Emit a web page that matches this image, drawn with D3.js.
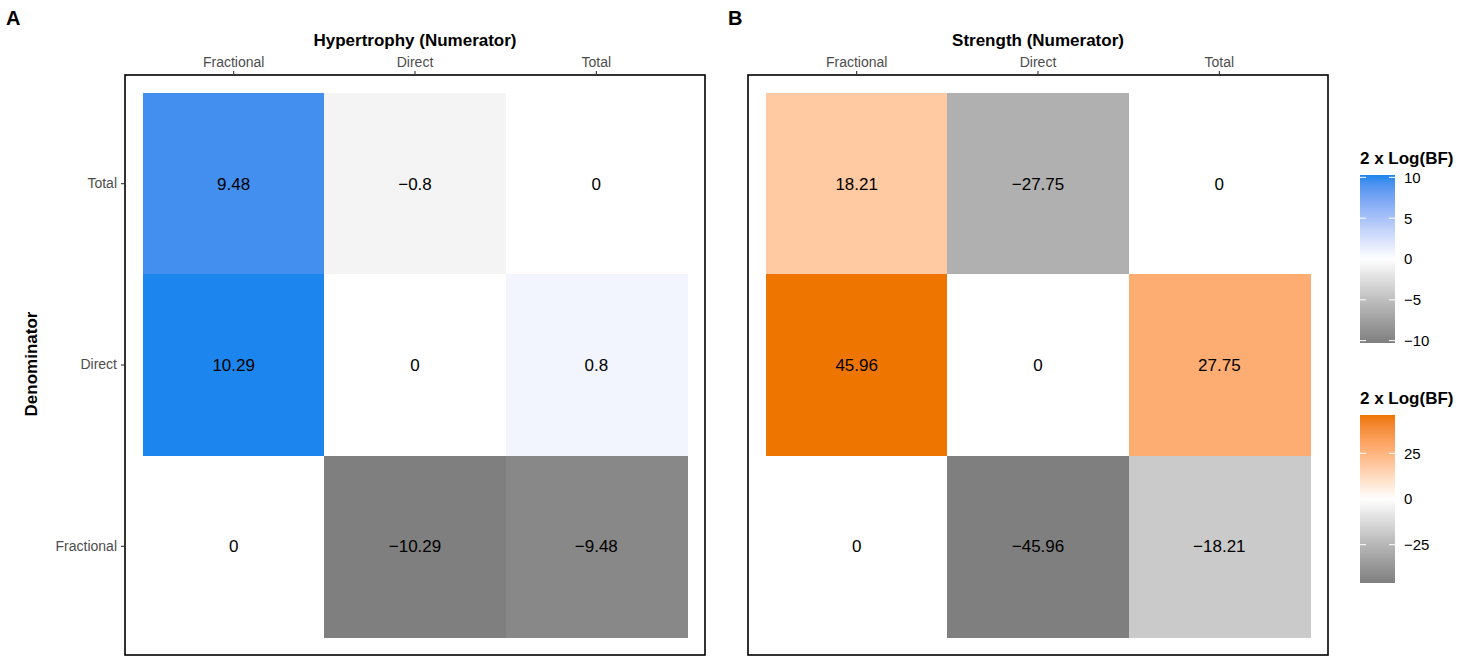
<!DOCTYPE html>
<html>
<head>
    <script src="https://d3js.org/d3.v7.min.js"></script>
    <style>
        body { margin: 0; background: #fff; }
        svg { font-family: "Liberation Sans", Arial, sans-serif; }
    </style>
</head>
<body>
    <svg width="1484" height="656"></svg>
    <script>
        // categories
        const numerators = ["Fractional", "Direct", "Total"];
        const denominators = ["Total", "Direct", "Fractional"];

        // values, row by row (denominator), columns = numerator
        const hypertrophyValues = [
            [9.48, -0.8, 0],
            [10.29, 0, 0.8],
            [0, -10.29, -9.48]
        ];
        const strengthValues = [
            [18.21, -27.75, 0],
            [45.96, 0, 27.75],
            [0, -45.96, -18.21]
        ];

        const hyperTicks = [10, 5, 0, -5, -10];
        const strengthTicks = [25, 0, -25];

        const svg = d3.select("svg");
        const fmt = v => String(v).replace("-", "\u2212");

        function makeColor(maxAbs, high) {
            return d3.scaleLinear()
                .domain([-maxAbs, 0, maxAbs])
                .range(["#7f7f7f", "#ffffff", high])
                .interpolate(d3.interpolateLab);
        }

        const hyperColor = makeColor(10.29, "#1C86EE");
        const strengthColor = makeColor(45.96, "#EE7600");

        function panel(x0, letter, title, values, color, showY) {
            const frame = { x: x0, y: 75, w: 580, h: 580 };
            const inner = 18;
            const g = svg.append("g");

            const x = d3.scaleBand().domain(numerators)
                .range([frame.x + inner, frame.x + frame.w - inner]);
            const y = d3.scaleBand().domain(denominators)
                .range([frame.y + inner, frame.y + frame.h - inner]);

            const cells = [];
            values.forEach((row, i) => row.forEach((v, j) => {
                cells.push({ num: numerators[j], den: denominators[i], v });
            }));

            g.selectAll("rect.cell").data(cells).join("rect")
                .attr("class", "cell")
                .attr("x", d => x(d.num))
                .attr("y", d => y(d.den))
                .attr("width", x.bandwidth() + 0.5)
                .attr("height", y.bandwidth() + 0.5)
                .attr("shape-rendering", "crispEdges")
                .attr("fill", d => color(d.v));

            g.selectAll("text.val").data(cells).join("text")
                .attr("class", "val")
                .attr("x", d => x(d.num) + x.bandwidth() / 2)
                .attr("y", d => y(d.den) + y.bandwidth() / 2)
                .attr("dy", "0.36em")
                .attr("text-anchor", "middle")
                .attr("font-size", 17)
                .attr("fill", "#000")
                .text(d => fmt(d.v));

            g.append("rect")
                .attr("x", frame.x).attr("y", frame.y)
                .attr("width", frame.w).attr("height", frame.h)
                .attr("fill", "none").attr("stroke", "#000").attr("stroke-width", 1.6);

            // top axis
            const xAxis = g.append("g")
                .attr("transform", `translate(0,${frame.y})`)
                .call(d3.axisTop(x).tickSize(4).tickPadding(4));
            xAxis.select(".domain").remove();
            xAxis.selectAll("line").attr("stroke", "#333").attr("stroke-width", 1.1);
            xAxis.selectAll("text").attr("font-size", 14).attr("fill", "#4d4d4d")
                .attr("font-family", "Liberation Sans, Arial, sans-serif");

            if (showY) {
                const yAxis = g.append("g")
                    .attr("transform", `translate(${frame.x},0)`)
                    .call(d3.axisLeft(y).tickSize(4).tickPadding(4));
                yAxis.select(".domain").remove();
                yAxis.selectAll("line").attr("stroke", "#333").attr("stroke-width", 1.1);
                yAxis.selectAll("text").attr("font-size", 14).attr("fill", "#4d4d4d")
                    .attr("font-family", "Liberation Sans, Arial, sans-serif");

                g.append("text")
                    .attr("transform", `translate(37,${frame.y + frame.h / 2 - 1}) rotate(-90)`)
                    .attr("text-anchor", "middle")
                    .attr("font-size", 17).attr("font-weight", "bold")
                    .text("Denominator");
            }

            g.append("text")
                .attr("x", frame.x + frame.w / 2).attr("y", 46)
                .attr("text-anchor", "middle")
                .attr("font-size", 17).attr("font-weight", "bold")
                .text(title);

            g.append("text")
                .attr("x", letter.x).attr("y", 25)
                .attr("font-size", 20).attr("font-weight", "bold")
                .text(letter.t);
        }

        panel(125, { x: 6, t: "A" }, "Hypertrophy (Numerator)", hypertrophyValues, hyperColor, true);
        panel(748, { x: 728, t: "B" }, "Strength (Numerator)", strengthValues, strengthColor, false);

        // legends
        const defs = svg.append("defs");
        function legend(id, top, maxAbs, color, ticks) {
            const bx = 1360, bw = 35, bh = 168;
            const grad = defs.append("linearGradient").attr("id", id)
                .attr("x1", 0).attr("y1", 1).attr("x2", 0).attr("y2", 0);
            d3.range(0, 21).forEach(k => {
                const t = k / 20;
                grad.append("stop").attr("offset", t)
                    .attr("stop-color", color(-maxAbs + 2 * maxAbs * t));
            });
            const g = svg.append("g");
            g.append("text").attr("x", bx).attr("y", top - 11)
                .attr("font-size", 17).attr("font-weight", "bold")
                .text("2 x Log(BF)");
            g.append("rect").attr("x", bx).attr("y", top)
                .attr("width", bw).attr("height", bh)
                .attr("fill", `url(#${id})`);
            const s = d3.scaleLinear().domain([-maxAbs, maxAbs]).range([top + bh, top]);
            ticks.forEach(t => {
                g.append("line").attr("x1", bx).attr("x2", bx + 6)
                    .attr("y1", s(t)).attr("y2", s(t))
                    .attr("stroke", "#fff").attr("stroke-width", 1);
                g.append("line").attr("x1", bx + bw - 6).attr("x2", bx + bw)
                    .attr("y1", s(t)).attr("y2", s(t))
                    .attr("stroke", "#fff").attr("stroke-width", 1);
                g.append("text").attr("x", bx + bw + 9).attr("y", s(t))
                    .attr("dy", "0.36em").attr("font-size", 15)
                    .text(fmt(t));
            });
        }
        legend("gradHyper", 175, 10.29, hyperColor, hyperTicks);
        legend("gradStrength", 415, 45.96, strengthColor, strengthTicks);
    </script>
</body>
</html>
